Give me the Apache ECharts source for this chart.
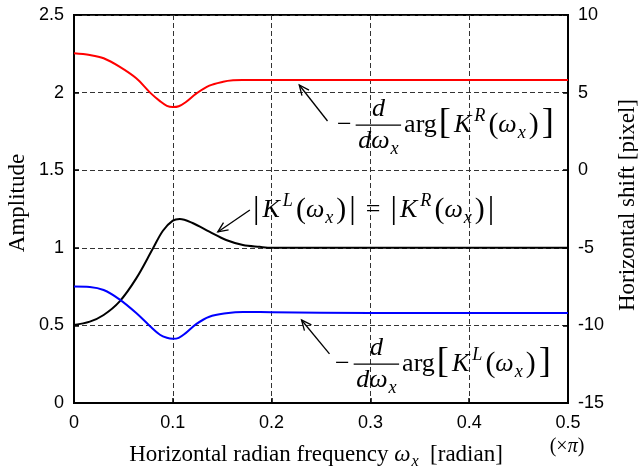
<!DOCTYPE html>
<html>
<head>
<meta charset="utf-8">
<script src="https://cdn.jsdelivr.net/npm/echarts@6/dist/echarts.min.js"></script>
<style>
html,body{margin:0;padding:0;background:#fff;}
#c{width:638px;height:473px;}
</style>
</head>
<body>
<div id="c"></div>
<script>
// ---- data ----
const ampX = [0, 0.016, 0.03, 0.046, 0.063, 0.08, 0.09, 0.1, 0.107, 0.12, 0.137, 0.154, 0.171, 0.188, 0.2, 0.25, 0.5];
const ampY = [0.503, 0.524, 0.567, 0.653, 0.803, 0.997, 1.11, 1.175, 1.186, 1.16, 1.104, 1.05, 1.018, 1.006, 1.0, 1.0, 1.0];
const shiftRX = [0, 0.016, 0.03, 0.046, 0.063, 0.077, 0.087, 0.094, 0.1, 0.106, 0.113, 0.124, 0.137, 0.151, 0.161, 0.17, 0.25, 0.5];
const shiftRY = [7.53, 7.42, 7.21, 6.67, 5.92, 5.0, 4.45, 4.15, 4.07, 4.12, 4.38, 4.95, 5.45, 5.70, 5.79, 5.81, 5.81, 5.81];
const shiftLX = [0, 0.016, 0.03, 0.046, 0.063, 0.077, 0.087, 0.094, 0.1, 0.106, 0.113, 0.124, 0.137, 0.154, 0.171, 0.2, 0.3, 0.5];
const shiftLY = [-7.49, -7.52, -7.72, -8.32, -9.2, -10.05, -10.6, -10.8, -10.86, -10.8, -10.5, -9.9, -9.44, -9.22, -9.13, -9.15, -9.2, -9.2];
// annotation arrows: [tailX, tailAmp, tipX, tipAmp] in data units (x axis, left axis)
const arrowRed = [0.2566, 1.817, 0.228, 2.049];
const arrowBlack = [0.178, 1.244, 0.1455, 1.102];
const arrowBlue = [0.2586, 0.316, 0.2303, 0.535];

const zip = (a, b) => a.map((v, i) => [v, b[i]]);

const chart = echarts.init(document.getElementById('c'), null, {renderer: 'canvas'});

const gridLine = {show: true, lineStyle: {type: [5, 3], color: '#333', width: 1}};
const axLine = {show: true, lineStyle: {color: '#000', width: 2}};
const axTick = {show: true, inside: true, length: 5, lineStyle: {color: '#000', width: 1.5}};
const axLabel = (m) => ({color: '#000', fontSize: 18, fontFamily: '"Liberation Sans", Arial, sans-serif', margin: m});

chart.setOption({
  animation: false,
  backgroundColor: '#fff',
  grid: {left: 74, right: 70, top: 15, bottom: 70, show: true, borderColor: '#000', borderWidth: 2},
  xAxis: {type: 'value', min: 0, max: 0.5, interval: 0.1,
    axisLine: axLine, axisTick: axTick, axisLabel: axLabel(11), splitLine: gridLine},
  yAxis: [
    {type: 'value', position: 'left', min: 0, max: 2.5, interval: 0.5,
      axisLine: axLine, axisTick: axTick, axisLabel: axLabel(10), splitLine: gridLine},
    {type: 'value', position: 'right', min: -15, max: 10, interval: 5,
      axisLine: axLine, axisTick: axTick, axisLabel: axLabel(10), splitLine: {show: false}}
  ],
  series: [
    {name: 'amp', type: 'line', yAxisIndex: 0, data: zip(ampX, ampY), showSymbol: false, smooth: 0.35,
      lineStyle: {color: '#000', width: 2}, z: 3},
    {name: 'right', type: 'line', yAxisIndex: 1, data: zip(shiftRX, shiftRY), showSymbol: false, smooth: 0.35,
      lineStyle: {color: '#ff0000', width: 2}, z: 3},
    {name: 'left', type: 'line', yAxisIndex: 1, data: zip(shiftLX, shiftLY), showSymbol: false, smooth: 0.35,
      lineStyle: {color: '#0000ff', width: 2}, z: 3}
  ]
});

// ---- math-like text layout ----
const ctx = document.createElement('canvas').getContext('2d');
const FAM = '"Liberation Serif"';
function run(tokens, x, base, S, out) {
  let cx = x;
  for (const tk of tokens) {
    cx += (tk.gap || 0);
    if (tk.frac) {
      const wn = run(tk.frac[0], 0, 0, S, null), wd = run(tk.frac[1], 0, 0, S, null);
      const w = Math.max(wn, wd) + 5;
      const ly = base - 0.3 * S;
      if (out) {
        out.push({type: 'line', shape: {x1: cx, y1: ly, x2: cx + w, y2: ly}, style: {stroke: '#000', lineWidth: 1.2}, z: 100});
        run(tk.frac[0], cx + (w - wn) / 2, ly - 0.3 * S, S, out);
        run(tk.frac[1], cx + (w - wd) / 2, ly + 0.92 * S, S, out);
      }
      cx += w;
    } else {
      const sz = S * (tk.sc || 1);
      ctx.font = (tk.it ? 'italic ' : '') + sz + 'px ' + FAM;
      const w = ctx.measureText(tk.t).width;
      if (out) out.push({type: 'text', x: cx, y: base + (tk.dy || 0) * S - 0.3 * sz, z: 100,
        style: {text: tk.t, fontSize: sz, fontFamily: FAM, fontStyle: tk.it ? 'italic' : 'normal',
          fill: '#000', align: 'left', verticalAlign: 'middle'}});
      cx += w;
    }
  }
  return cx - x;
}
const sub = (t) => ({t: t, it: true, sc: 0.7, dy: 0.22, gap: 1});
const sup = (t) => ({t: t, it: true, sc: 0.7, dy: -0.42, gap: 3});
function derivTokens(s) {
  return [
    {t: '−'},
    {gap: 4, frac: [[{t: 'd', it: true}], [{t: 'dω', it: true}, sub('x')]]},
    {gap: 3, t: 'arg'},
    {gap: 2, t: '[', sc: 1.4, dy: 0.05},
    {gap: 3, t: 'K', it: true}, sup(s),
    {gap: 3, t: '(', sc: 1.15, dy: 0.03},
    {t: 'ω', it: true}, sub('x'),
    {gap: 3, t: ')', sc: 1.15, dy: 0.03},
    {gap: 3, t: ']', sc: 1.4, dy: 0.05}
  ];
}
function absTokens(s, g0) {
  return [
    {gap: g0, t: '|', sc: 1.25, dy: 0.04},
    {gap: 3, t: 'K', it: true}, sup(s),
    {gap: 3, t: '(', sc: 1.15, dy: 0.03},
    {t: 'ω', it: true}, sub('x'),
    {gap: 3, t: ')', sc: 1.15, dy: 0.03},
    {gap: 3, t: '|', sc: 1.25, dy: 0.04}
  ];
}
const blackTokens = absTokens('L', 0).concat([{gap: 10, t: '='}], absTokens('R', 10));
const xNameTokens = [{t: 'Horizontal radian frequency '}, {t: 'ω', it: true}, sub('x'), {t: '  [radian]'}];
const piTokens = [{t: '(×'}, {t: 'π', it: true}, {t: ')'}];

const els = [];
run(derivTokens('R'), 337, 133, 26, els);
run(blackTokens, 253, 218, 26, els);
run(derivTokens('L'), 335, 372, 26, els);
const wx = run(xNameTokens, 0, 0, 23, null);
run(xNameTokens, 316 - wx / 2, 462, 23, els);
const wp = run(piTokens, 0, 0, 20, null);
run(piTokens, 567 - wp / 2, 453, 20, els);

els.push({type: 'text', x: 18, y: 203, rotation: Math.PI / 2, z: 100,
  style: {text: 'Amplitude', fontSize: 23, fontFamily: FAM, fill: '#000', align: 'center', verticalAlign: 'middle'}});
els.push({type: 'text', x: 628, y: 205, rotation: Math.PI / 2, z: 100,
  style: {text: 'Horizontal shift [pixel]', fontSize: 23, fontFamily: FAM, fill: '#000', align: 'center', verticalAlign: 'middle'}});

function arrow(a) {
  const p0 = chart.convertToPixel({xAxisIndex: 0, yAxisIndex: 0}, [a[0], a[1]]);
  const p1 = chart.convertToPixel({xAxisIndex: 0, yAxisIndex: 0}, [a[2], a[3]]);
  const ang = Math.atan2(p0[1] - p1[1], p0[0] - p1[0]);
  const L = 11, h = 0.42;
  const pa = [p1[0] + L * Math.cos(ang + h), p1[1] + L * Math.sin(ang + h)];
  const pb = [p1[0] + L * Math.cos(ang - h), p1[1] + L * Math.sin(ang - h)];
  els.push({type: 'line', shape: {x1: p0[0], y1: p0[1], x2: p1[0], y2: p1[1]}, style: {stroke: '#000', lineWidth: 1.3}, z: 100});
  els.push({type: 'polyline', shape: {points: [pa, p1, pb]}, style: {stroke: '#000', fill: null, lineWidth: 1.3}, z: 100});
}
arrow(arrowRed); arrow(arrowBlack); arrow(arrowBlue);

chart.setOption({graphic: {elements: els}});
</script>
</body>
</html>
